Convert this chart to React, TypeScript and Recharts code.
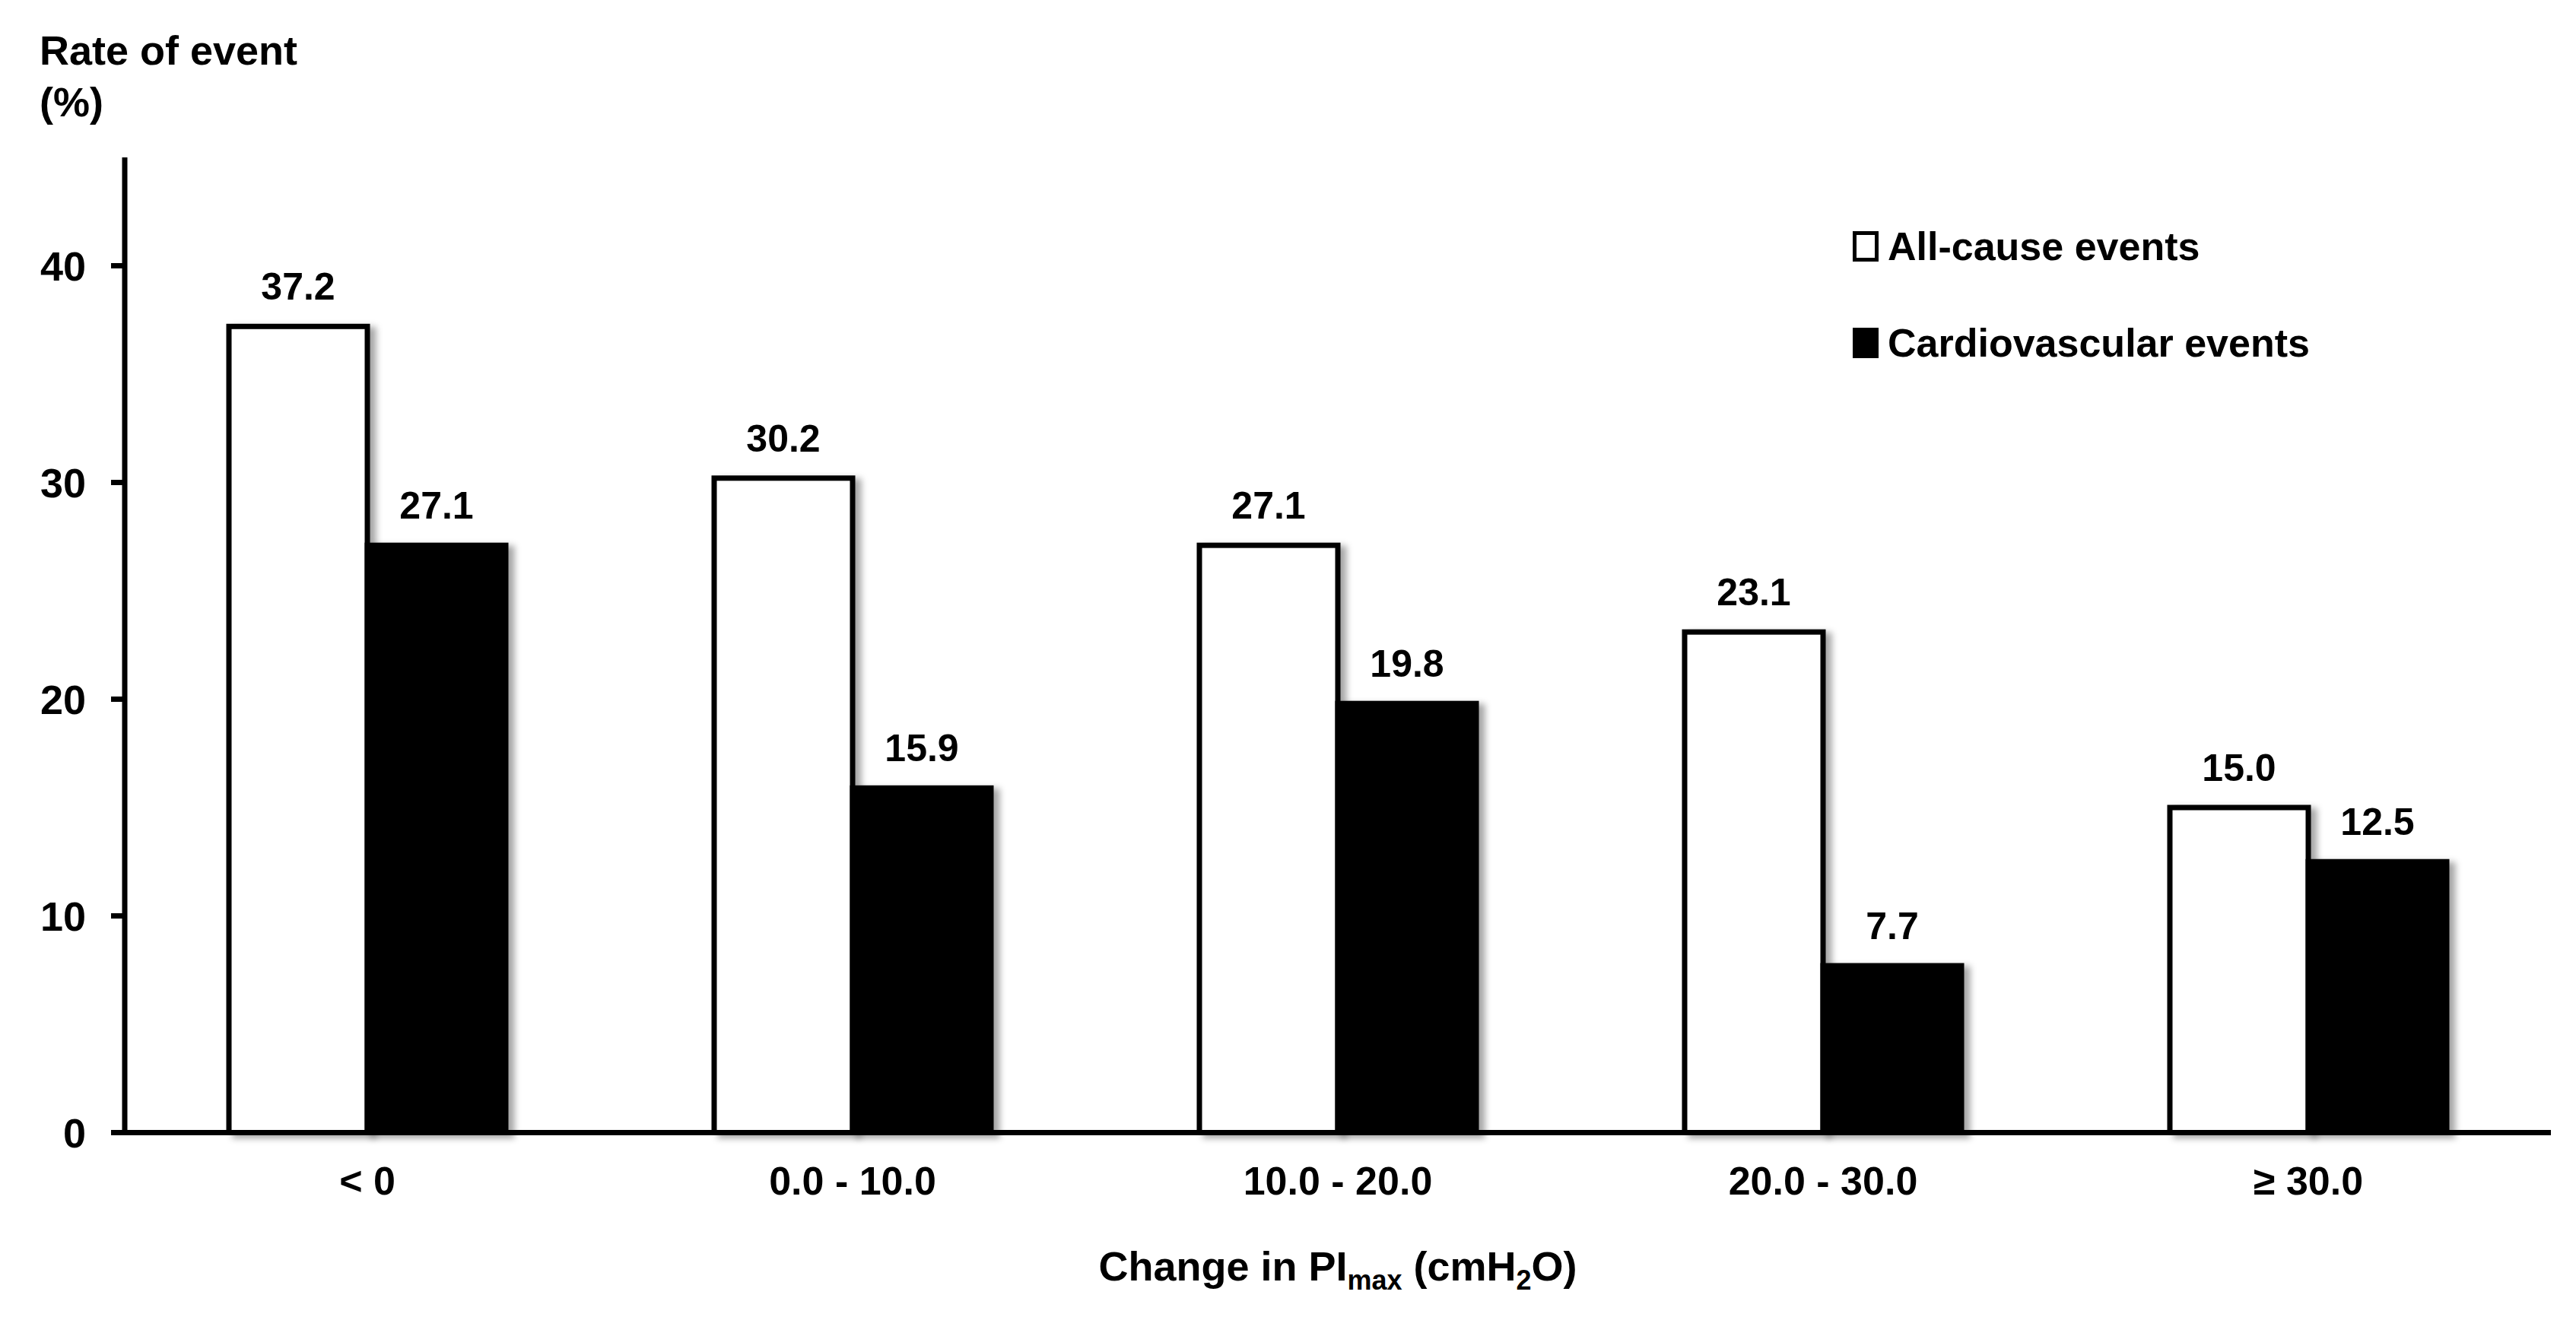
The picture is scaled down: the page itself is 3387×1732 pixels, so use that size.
import React from "react";
import {
  BarChart,
  Bar,
  XAxis,
  YAxis,
  Legend,
  LabelList,
  Label,
} from "recharts";

const categories = ["< 0", "0.0 - 10.0", "10.0 - 20.0", "20.0 - 30.0", "≥ 30.0"];
const allCauseEvents = [37.2, 30.2, 27.1, 23.1, 15.0];
const cardiovascularEvents = [27.1, 15.9, 19.8, 7.7, 12.5];
const yTicks = [0, 10, 20, 30, 40];

const seriesNames = ["All-cause events", "Cardiovascular events"];
const seriesFills = ["#ffffff", "#000000"];

const data = categories.map((name, i) => ({
  name,
  allCause: allCauseEvents[i],
  cardio: cardiovascularEvents[i],
}));

const FONT = '"Liberation Sans", Arial, Helvetica, sans-serif';
const W = 3379;
const H = 1724;

function whiteBar(props: any) {
  const { x, y, width, height } = props;
  return (
    <rect
      x={x}
      y={y}
      width={width}
      height={height}
      fill="#ffffff"
      stroke="#000000"
      strokeWidth={7}
      filter="url(#barShadow)"
    />
  );
}

function blackBar(props: any) {
  const { x, y, width, height } = props;
  return (
    <rect
      x={x}
      y={y}
      width={width}
      height={height}
      fill="#000000"
      stroke="#000000"
      strokeWidth={7}
      filter="url(#barShadow)"
    />
  );
}

function YTitle(props: any) {
  const { x, y } = props.viewBox;
  return (
    <text fontFamily={FONT} fontWeight="bold" fontSize={54} fill="#000">
      <tspan x={x + 44} y={y - 122}>Rate of event</tspan>
      <tspan x={x + 44} y={y - 54}>(%)</tspan>
    </text>
  );
}

function XTitle(props: any) {
  const { x, y, width } = props.viewBox;
  return (
    <text
      x={x + width / 2}
      y={y + 194}
      textAnchor="middle"
      fontFamily={FONT}
      fontWeight="bold"
      fontSize={54}
      fill="#000"
    >
      Change in PI
      <tspan fontSize={36} dy={12}>max</tspan>
      <tspan dy={-12}> (cmH</tspan>
      <tspan fontSize={36} dy={12}>2</tspan>
      <tspan dy={-12}>O)</tspan>
    </text>
  );
}

function LegendBox() {
  return (
    <div style={{ fontFamily: FONT, fontWeight: "bold", fontSize: 52, color: "#000" }}>
      {seriesNames.map((n, i) => (
        <div
          key={n}
          style={{ display: "flex", alignItems: "center", height: 127 }}
        >
          <span
            style={{
              display: "inline-block",
              width: 24,
              height: 30,
              background: seriesFills[i],
              border: "5px solid #000",
              marginRight: 12,
            }}
          />
          <span>{n}</span>
        </div>
      ))}
    </div>
  );
}

export default function App() {
  return (
    <div style={{ width: W, height: H, background: "#fff", fontFamily: FONT }}>
      <BarChart
        width={W}
        height={H}
        data={data}
        margin={{ top: 199, right: 33, bottom: 92.5, left: 0 }}
        barGap={0}
        barSize={182}
      >
        <defs>
          <filter id="barShadow" x="-10%" y="-10%" width="130%" height="130%">
            <feDropShadow dx={8} dy={4} stdDeviation={4} floodColor="#000" floodOpacity={0.35} />
          </filter>
        </defs>
        <XAxis
          dataKey="name"
          height={150}
          axisLine={{ stroke: "#000", strokeWidth: 7 }}
          tickLine={false}
          tickSize={0}
          tickMargin={45}
          interval={0}
          tick={{ fill: "#000", fontSize: 52, fontWeight: "bold", fontFamily: FONT }}
        >
          <Label content={XTitle} />
        </XAxis>
        <YAxis
          width={156}
          domain={[0, 45]}
          ticks={yTicks}
          axisLine={{ stroke: "#000", strokeWidth: 7 }}
          tickLine={{ stroke: "#000", strokeWidth: 7 }}
          tickSize={18}
          tickMargin={33}
          tick={{ fill: "#000", fontSize: 54, fontWeight: "bold", fontFamily: FONT }}
        >
          <Label content={YTitle} />
        </YAxis>
        <Legend
          layout="vertical"
          verticalAlign="middle"
          align="center"
          content={LegendBox}
          wrapperStyle={{ top: 252, left: 2428, width: 800 }}
        />
        <Bar
          dataKey="allCause"
          name={seriesNames[0]}
          fill={seriesFills[0]}
          shape={whiteBar}
          isAnimationActive={false}
        >
          <LabelList
            dataKey="allCause"
            position="top"
            offset={35}
            formatter={(v: any) => Number(v).toFixed(1)}
            fill="#000"
            fontSize={50}
            fontWeight="bold"
            fontFamily={FONT}
          />
        </Bar>
        <Bar
          dataKey="cardio"
          name={seriesNames[1]}
          fill={seriesFills[1]}
          shape={blackBar}
          isAnimationActive={false}
        >
          <LabelList
            dataKey="cardio"
            position="top"
            offset={35}
            formatter={(v: any) => Number(v).toFixed(1)}
            fill="#000"
            fontSize={50}
            fontWeight="bold"
            fontFamily={FONT}
          />
        </Bar>
      </BarChart>
    </div>
  );
}
